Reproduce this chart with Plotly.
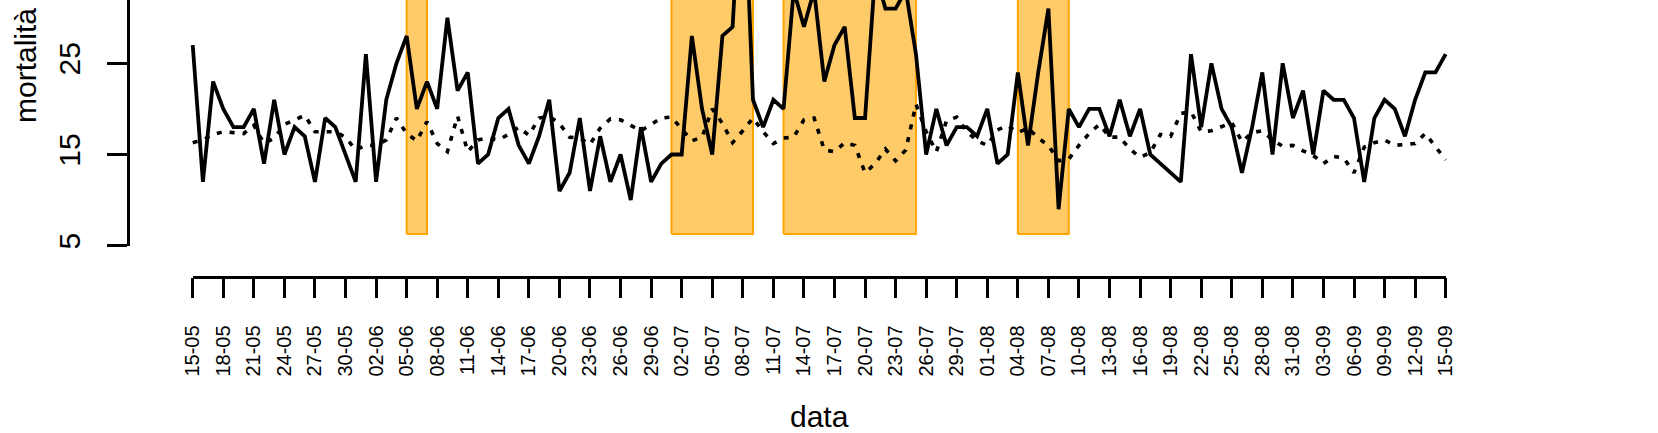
import plotly.graph_objects as go
import pandas as pd

# ---------------- data ----------------
start_date = "2003-05-15"

observed = [27, 12, 23, 20, 18, 18, 20, 14, 21, 15, 18, 17, 12, 19, 18, 15, 12, 26, 12, 21,
            25, 28, 20, 23, 20, 30, 22, 24, 14, 15, 19, 20, 16, 14, 17, 21, 11, 13, 19, 11,
            17, 12, 15, 10, 18, 12, 14, 15, 15, 28, 20, 15, 28, 29, 49, 21, 18, 21, 20, 33,
            29, 33, 23, 27, 29, 19, 19, 35, 31, 31, 33, 26, 15, 20, 16, 18, 18, 17, 20, 14,
            15, 24, 16, 24, 31, 9, 20, 18, 20, 20, 17, 21, 17, 20, 15, 14, 13, 12, 26, 18,
            25, 20, 18, 13, 18, 24, 15, 25, 19, 22, 15, 22, 21, 21, 19, 12, 19, 21, 20, 17,
            21, 24, 24, 26]

expected = [16.3, 16.6, 17.2, 17.5, 17.4, 17.3, 18.2, 16.2, 16.8, 18.3, 18.8, 19.3, 17.5, 17.5,
            17.5, 16.9, 15.5, 16.0, 16.0, 16.6, 19.0, 17.3, 16.5, 18.6, 16.2, 15.3, 19.2, 15.3,
            16.6, 16.8, 16.6, 17.2, 18.0, 17.1, 19.0, 19.2, 18.4, 16.9, 16.8, 16.1, 17.9, 18.9,
            18.8, 18.2, 17.6, 18.3, 19.0, 19.1, 17.8, 16.5, 16.9, 20.0, 18.4, 16.3, 17.6, 19.0,
            17.5, 16.2, 16.8, 16.9, 18.8, 19.0, 15.5, 15.3, 16.3, 16.0, 13.0, 14.0, 15.6, 14.3,
            15.5, 20.5, 17.5, 15.3, 18.7, 19.1, 17.5, 16.5, 16.0, 17.7, 18.2, 17.4, 17.9, 16.8,
            16.0, 14.3, 14.5, 16.0, 17.3, 18.3, 16.9, 16.9, 15.6, 14.7, 15.2, 17.2, 17.0, 19.5,
            19.7, 17.5, 17.6, 18.0, 18.5, 16.4, 17.4, 17.6, 16.6, 15.9, 16.0, 15.4, 14.9, 14.0,
            14.8, 14.6, 13.0, 15.8, 16.3, 16.6, 16.0, 16.1, 16.2, 17.3, 15.9, 14.4]

tick_labels = ["15-05", "18-05", "21-05", "24-05", "27-05", "30-05", "02-06", "05-06",
               "08-06", "11-06", "14-06", "17-06", "20-06", "23-06", "26-06", "29-06",
               "02-07", "05-07", "08-07", "11-07", "14-07", "17-07", "20-07", "23-07",
               "26-07", "29-07", "01-08", "04-08", "07-08", "10-08", "13-08", "16-08",
               "19-08", "22-08", "25-08", "28-08", "31-08", "03-09", "06-09", "09-09",
               "12-09", "15-09"]

y_ticks = [5, 15, 25, 35]

heat_start = ["2003-06-05", "2003-07-01", "2003-07-12", "2003-08-04"]
heat_end = ["2003-06-07", "2003-07-09", "2003-07-25", "2003-08-09"]

# ---------------- layout helpers ----------------
W, H = 1658, 433
FONT = "Liberation Sans, Arial, sans-serif"


def fx(px):
    return px / W


def fy(py):
    return 1 - py / H


dates = pd.date_range(start_date, periods=len(observed), freq="D")
tick_dates = list(dates[::3])
d0, d1 = dates[0], dates[-1]
pad = pd.Timedelta(days=4.92)
fmt = "%Y-%m-%d %H:%M:%S"

# plot region (R usr) in pixels
x_left_px, x_right_px = 142.6, 1495.8
x_first_px, x_last_px = 192.7, 1445.7
y5_px = 245.7
px_per_unit = 9.12
y_top_val = 5 + y5_px / px_per_unit
rect_bottom = 6.28
rect_top = 300

fig = go.Figure()

for s, e in zip(heat_start, heat_end):
    fig.add_trace(go.Scatter(
        x=[s, e, e, s, s],
        y=[rect_bottom, rect_bottom, rect_top, rect_top, rect_bottom],
        mode="lines", fill="toself",
        fillcolor="rgb(255,202,104)",
        line=dict(color="rgb(255,165,0)", width=2),
        showlegend=False, hoverinfo="skip",
    ))

fig.add_trace(go.Scatter(
    x=dates, y=expected, mode="lines",
    line=dict(color="black", width=3.6, dash="5px,8px"),
    showlegend=False,
))
fig.add_trace(go.Scatter(
    x=dates, y=observed, mode="lines",
    line=dict(color="black", width=3.8),
    showlegend=False,
))
# carrier for the drawn x axis
fig.add_trace(go.Scatter(
    x=[d0, d1], y=[None, None], xaxis="x2", yaxis="y",
    mode="lines", showlegend=False, hoverinfo="skip",
))

fig.update_layout(
    template="none",
    width=W, height=H, autosize=False,
    margin=dict(l=0, r=0, t=0, b=0, pad=0),
    paper_bgcolor="white", plot_bgcolor="rgba(0,0,0,0)",
    font=dict(family=FONT, color="black"),
    xaxis=dict(
        domain=[fx(x_left_px), fx(x_right_px)],
        range=[(d0 - pad).strftime(fmt), (d1 + pad).strftime(fmt)],
        type="date", visible=False, showgrid=False, zeroline=False,
        anchor="y", automargin=False,
    ),
    xaxis2=dict(
        domain=[fx(x_first_px), fx(x_last_px)],
        range=[d0.strftime(fmt), d1.strftime(fmt)],
        type="date", anchor="free", position=fy(276.7),
        showline=True, linecolor="black", linewidth=2.5,
        ticks="outside", ticklen=20, tickwidth=2.5, tickcolor="black",
        tickvals=tick_dates, ticktext=tick_labels,
        tickangle=-90, tickfont=dict(size=20, family=FONT, color="black"),
        ticklabelstandoff=19, automargin=False,
        showgrid=False, zeroline=False,
        title=dict(text="data", font=dict(size=30, family=FONT, color="black"), standoff=34),
    ),
    yaxis=dict(
        domain=[fy(y5_px), 1],
        range=[5, y_top_val],
        anchor="free", position=fx(128),
        showline=True, linecolor="black", linewidth=2.5,
        ticks="outside", ticklen=20, tickwidth=2.5, tickcolor="black",
        tickvals=y_ticks, ticktext=[str(v) for v in y_ticks],
        tickangle=-90, tickfont=dict(size=30, family=FONT, color="black"),
        ticklabelstandoff=15, automargin=False,
        showgrid=False, zeroline=False,
    ),
    annotations=[dict(
        text="mortalità", x=fx(26), y=fy(66), xref="paper", yref="paper",
        xanchor="center", yanchor="middle",
        textangle=-90, showarrow=False,
        font=dict(size=30, family=FONT, color="black"),
    )],
)

fig.write_html("out.html", config={"responsive": False})
